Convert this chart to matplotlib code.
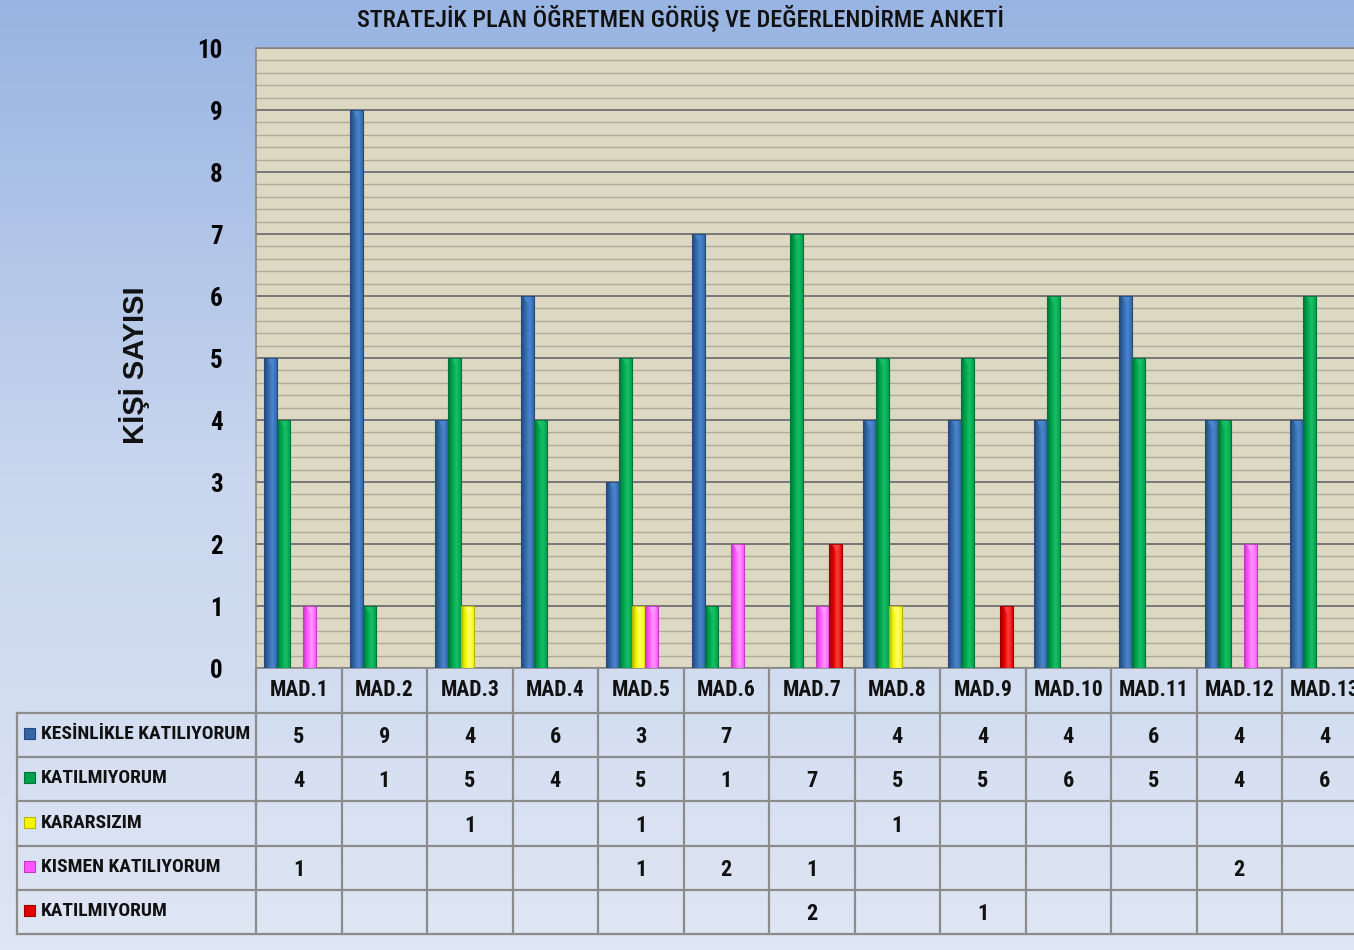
import numpy as np
import matplotlib.pyplot as plt
from matplotlib import font_manager
from matplotlib.colors import LinearSegmentedColormap
from matplotlib.lines import Line2D
from matplotlib.patches import Rectangle
from matplotlib.transforms import blended_transform_factory

# ──────────────────────────────────────────────────────────────────────────────
# DATA  (None = empty cell in the data table)
# ──────────────────────────────────────────────────────────────────────────────

categories = ["MAD.1", "MAD.2", "MAD.3", "MAD.4", "MAD.5", "MAD.6", "MAD.7",
              "MAD.8", "MAD.9", "MAD.10", "MAD.11", "MAD.12", "MAD.13"]

series_names = ["KESİNLİKLE KATILIYORUM", "KATILMIYORUM", "KARARSIZIM",
                "KISMEN KATILIYORUM", "KATILMIYORUM"]

kesinlikle_katiliyorum = [5, 9, 4, 6, 3, 7, None, 4, 4, 4, 6, 4, 4]
katilmiyorum_green     = [4, 1, 5, 4, 5, 1, 7, 5, 5, 6, 5, 4, 6]
kararsizim             = [None, None, 1, None, 1, None, None, 1, None, None, None, None, None]
kismen_katiliyorum     = [1, None, None, None, 1, 2, 1, None, None, None, None, 2, None]
katilmiyorum_red       = [None, None, None, None, None, None, 2, None, 1, None, None, None, None]

series_values = [kesinlikle_katiliyorum, katilmiyorum_green, kararsizim,
                 kismen_katiliyorum, katilmiyorum_red]

# (dark, base, light) per series
series_colors = [
    ("#24497A", "#3567A8", "#4A86D0"),
    ("#00723A", "#00A24E", "#19C064"),
    ("#B8B800", "#F5F500", "#FFFF70"),
    ("#C03AC0", "#FF55FF", "#FF99FF"),
    ("#9A0000", "#E00000", "#FF4040"),
]

title = "STRATEJİK PLAN ÖĞRETMEN GÖRÜŞ VE DEĞERLENDİRME ANKETİ"
ylabel = "KİŞİ SAYISI"

# ──────────────────────────────────────────────────────────────────────────────
# FONT: prefer a narrow face, shrink the text if only a normal width exists
# ──────────────────────────────────────────────────────────────────────────────

NARROW = ["Liberation Sans Narrow", "Roboto Condensed", "DejaVu Sans"]
found = font_manager.findfont(font_manager.FontProperties(
    family=NARROW, weight="bold", stretch="condensed"), fallback_to_default=True)
is_narrow = any(k in found for k in ("Narrow", "Condensed"))
fs_cell = 16 if is_narrow else 12.5
fs_row = 14 if is_narrow else 11.5
fs_head = 15.5 if is_narrow else 12
fs_title = 17.5 if is_narrow else 14
font_kw = dict(family=NARROW, stretch="condensed")

# ──────────────────────────────────────────────────────────────────────────────
# FIGURE + BACKGROUND
# ──────────────────────────────────────────────────────────────────────────────

W, H = 1354, 950
fig = plt.figure(figsize=(W / 100, H / 100), dpi=100)

bg = fig.add_axes([0, 0, 1, 1], zorder=-10)
bg_cmap = LinearSegmentedColormap.from_list("bg", ["#98B4E2", "#C9D6EE", "#DFE6F4"])
bg.imshow(np.linspace(0, 1, 256)[:, None], cmap=bg_cmap, aspect="auto",
          extent=[0, 1, 0, 1], origin="upper")
bg.set_axis_off()

# plot area (one category = 85.5 px, last column runs past the right edge)
cat_px = 85.5
left_px, top_px, zero_px = 256, 48, 668
ax = fig.add_axes([left_px / W, 1 - zero_px / H,
                   cat_px * len(categories) / W, (zero_px - top_px) / H])
ax.set_facecolor("#DDD8C2")
ax.set_autoscale_on(False)
ax.set_xlim(-0.5, len(categories) - 0.5)
ax.set_ylim(0, 10)

ax.set_yticks(range(0, 11))
ax.set_yticks(np.arange(0, 10.01, 0.2), minor=True)
ax.yaxis.grid(True, which="major", color="#777777", lw=1.4)
ax.yaxis.grid(True, which="minor", color="#AEAB9C", lw=1.0)
ax.set_axisbelow(True)
ax.set_xticks([])
ax.tick_params(axis="y", which="both", length=0, pad=24)
for lab in ax.get_yticklabels():
    lab.set_family(NARROW)
    lab.set_stretch("condensed")
    lab.set_fontweight("bold")
    lab.set_fontsize(18 if is_narrow else 16)
for side in ["left", "top", "bottom", "right"]:
    ax.spines[side].set_color("#888888")
    ax.spines[side].set_linewidth(1.2)

# ──────────────────────────────────────────────────────────────────────────────
# BARS (gradient fill + small bevel triangle on top)
# ──────────────────────────────────────────────────────────────────────────────

bar_w = 0.152
x = np.arange(len(categories))
for i, (vals, (dark, base, light)) in enumerate(zip(series_values, series_colors)):
    heights = np.array([v if v is not None else 0 for v in vals], dtype=float)
    xpos = x + (i - 2) * bar_w - 0.025
    bars = ax.bar(xpos, heights, bar_w, facecolor="none", edgecolor=dark,
                  lw=0.8, zorder=4)
    cmap = LinearSegmentedColormap.from_list(f"s{i}", [dark, base, light, base])
    for rect in bars:
        if rect.get_height() <= 0:
            continue
        x0 = rect.get_x()
        ax.imshow(np.linspace(0, 1, 64)[None, :], cmap=cmap, aspect="auto",
                  extent=(x0, x0 + rect.get_width(), 0, rect.get_height()),
                  interpolation="bicubic", zorder=3)
    shown = heights > 0
    ax.scatter(xpos[shown], heights[shown] - 0.07, marker="v", s=28,
               color=light, alpha=0.9, lw=0, zorder=5)
ax.set_xlim(-0.5, len(categories) - 0.5)
ax.set_ylim(0, 10)

# ──────────────────────────────────────────────────────────────────────────────
# TITLE + AXIS LABEL
# ──────────────────────────────────────────────────────────────────────────────

fig.text(680 / W, 1 - 19 / H, title, ha="center", va="center",
         fontsize=fs_title, fontweight="medium", color="#111111", **font_kw)
fig.text(135 / W, 1 - 365 / H, ylabel, rotation=90, ha="center", va="center",
         family=["Liberation Sans", "DejaVu Sans"], fontweight="bold",
         fontsize=21, color="#111111")

# ──────────────────────────────────────────────────────────────────────────────
# DATA TABLE (x in data units so columns follow the categories)
# ──────────────────────────────────────────────────────────────────────────────

trans = blended_transform_factory(ax.transData, fig.transFigure)


def px_x(px):
    return -0.5 + (px - left_px) / cat_px


def px_y(px):
    return 1 - px / H


row_edges = [668, 713, 757, 801, 846, 890, 934]
tbl_left = px_x(17)
tbl_right = len(categories) - 0.5 + 0.2
line_kw = dict(color="#8C8C8C", lw=1.6, transform=trans, clip_on=False)

for y in row_edges[1:]:
    fig.add_artist(Line2D([tbl_left, tbl_right], [px_y(y)] * 2, **line_kw))
fig.add_artist(Line2D([tbl_left] * 2, [px_y(row_edges[1]), px_y(row_edges[-1])], **line_kw))
for k in range(len(categories)):
    xe = k - 0.5
    fig.add_artist(Line2D([xe] * 2, [px_y(row_edges[0]), px_y(row_edges[-1])], **line_kw))

txt_kw = dict(fontweight="bold", color="#111111", transform=trans,
              va="center", ha="center", **font_kw)

for k, cat in enumerate(categories):
    fig.text(k, px_y((row_edges[0] + row_edges[1]) / 2), cat,
             fontsize=fs_head, **txt_kw)

for r, (name, vals, (dark, base, light)) in enumerate(
        zip(series_names, series_values, series_colors)):
    yc = (row_edges[r + 1] + row_edges[r + 2]) / 2
    fig.add_artist(Rectangle((px_x(24), px_y(yc + 4)), 11 / cat_px, 11 / H,
                             facecolor=base, edgecolor=dark, lw=0.8,
                             transform=trans, clip_on=False))
    fig.text(px_x(41), px_y(yc - 1), name, fontweight="bold", fontsize=fs_row,
             color="#111111", transform=trans, va="center", ha="left", **font_kw)
    for k, v in enumerate(vals):
        if v is not None:
            fig.text(k, px_y(yc + 2), str(v), fontsize=fs_cell, **txt_kw)

fig.savefig("out.png", dpi=100)
